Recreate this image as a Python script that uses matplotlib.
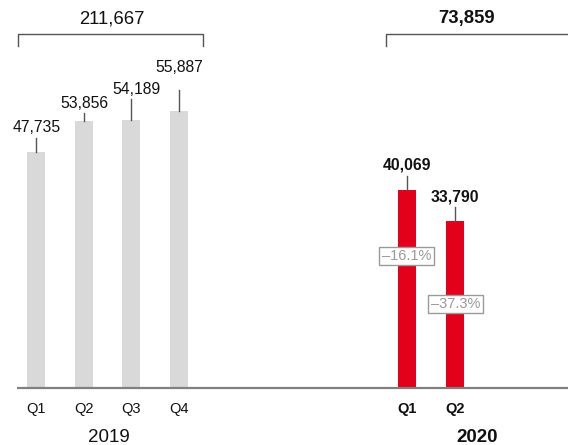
import matplotlib
matplotlib.use("Agg")
import matplotlib.pyplot as plt
from matplotlib.patches import Rectangle

# ---- data ----
quarters_2019 = ["Q1", "Q2", "Q3", "Q4"]
values_2019 = [47735, 53856, 54189, 55887]
quarters_2020 = ["Q1", "Q2"]
values_2020 = [40069, 33790]
total_2019 = "211,667"
total_2020 = "73,859"
changes_2020 = ["\u201316.1%", "\u201337.3%"]
years = ["2019", "2020"]

# ---- layout ----
W, H = 568, 445
fig = plt.figure(figsize=(W / 100, H / 100), dpi=100)
ax = fig.add_axes([0, 0, 1, 1])
plt.rcParams['font.family'] = ['Liberation Sans', 'DejaVu Sans']

x0_px, step_px = 36.0, 47.6
base_px = 387.7
units_per_px = 202.2

def xd(px):
    return (px - x0_px) / step_px

def yd(py):
    return (base_px - py) * units_per_px

ax.set_xlim(xd(0), xd(W))
ax.set_ylim(yd(H), yd(0))
ax.axis("off")

pos_2019 = [0, 1, 2, 3]
pos_2020 = [7.8, 8.8]
bw = 18 / step_px

GREY = "#d9d9d9"
RED = "#e3001b"
LINE = "#555555"

ax.bar(pos_2019, values_2019, width=bw, color=GREY, zorder=2)
ax.bar(pos_2020, values_2020, width=bw, color=RED, zorder=2)

# baseline
ax.plot([xd(17), xd(W)], [0, 0], color="#808080", lw=1.6, zorder=3, solid_capstyle="butt")

fs_val = 11.3
# value labels with leader lines (line top px, label center px, label x offset px)
lead_2019 = [(138, 127, 0.5), (113, 103, 1), (99, 89, 5), (90, 68, 0)]
for p, v, (lt, lc, dx) in zip(pos_2019, values_2019, lead_2019):
    ax.plot([p, p], [v, yd(lt)], color=LINE, lw=1.0, zorder=3)
    ax.text(p + dx / step_px, yd(lc), f"{v:,}", ha="center", va="center",
            fontsize=fs_val, color="#111111")
lead_2020 = [(176, 165, 0), (207, 197, 0)]
for p, v, (lt, lc, dx) in zip(pos_2020, values_2020, lead_2020):
    ax.plot([p, p], [v, yd(lt)], color=LINE, lw=1.0, zorder=3)
    ax.text(p + dx / step_px, yd(lc), f"{v:,}", ha="center", va="center",
            fontsize=fs_val, color="#111111", fontweight="bold")

# percentage boxes (center px, size 55x18 px)
box_c = [(406.5, 256), (455.5, 304)]
for t, (bx, by) in zip(changes_2020, box_c):
    ax.add_patch(Rectangle((xd(bx - 27.5), yd(by + 9)), 55 / step_px, 18 * units_per_px,
                           facecolor="white", edgecolor="#9a9a9a", lw=1.0, zorder=5))
    ax.text(xd(bx), yd(by), t, ha="center", va="center", fontsize=10.5,
            color="#9a9a9a", zorder=6)

# brackets
def bracket(x1, x2, label, bold, lx):
    yb, yt = yd(33.5), yd(45.5)
    ax.plot([xd(x1), xd(x1), xd(x2), xd(x2)], [yt, yb, yb, yt], color=LINE, lw=1.0,
            clip_on=False)
    ax.text(xd(lx), yd(19), label, ha="center", va="center", fontsize=13.3,
            color="#111111", fontweight="bold" if bold else "normal")

bracket(18, 203, total_2019, False, 111.5)
bracket(385.5, 570, total_2020, True, 467)

# x tick labels
for p, q in zip(pos_2019, quarters_2019):
    ax.text(p, yd(409), q, ha="center", va="center", fontsize=10.5, color="#111111")
for p, q in zip(pos_2020, quarters_2020):
    ax.text(p, yd(409), q, ha="center", va="center", fontsize=10.5, color="#111111",
            fontweight="bold")

ax.text(xd(109), yd(438), years[0], ha="center", va="center", fontsize=13.5, color="#111111")
ax.text(xd(477), yd(438), years[1], ha="center", va="center", fontsize=13.5, color="#111111",
        fontweight="bold")

fig.savefig("out.png", dpi=100)
